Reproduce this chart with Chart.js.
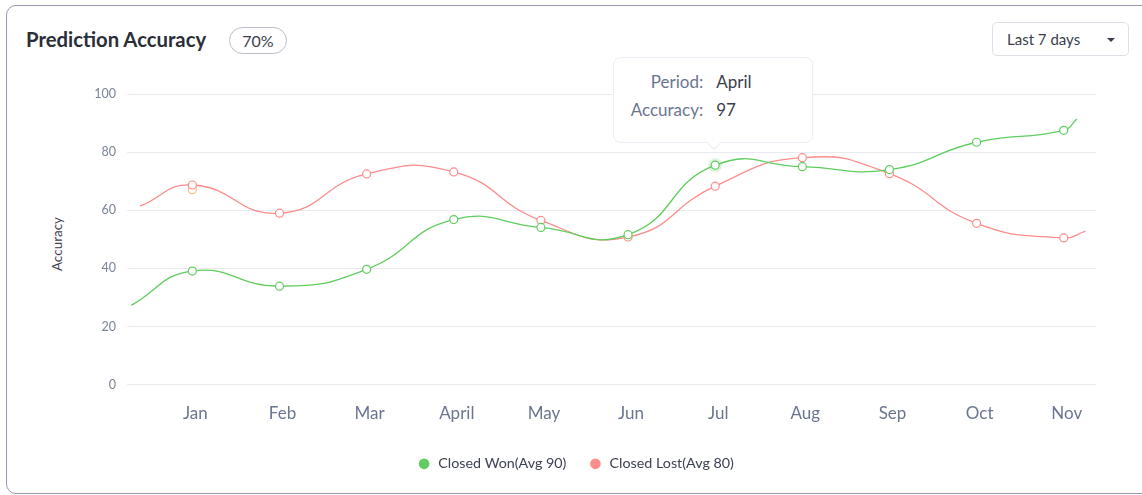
<!DOCTYPE html>
<html>
<head>
<meta charset="utf-8">
<title>Prediction Accuracy</title>
<script src="https://cdn.jsdelivr.net/npm/chart.js@4.4.1/dist/chart.umd.min.js"></script>
<style>
    body { margin: 0; width: 1142px; height: 495px; background: #fff; font-family: 'Lato', sans-serif; overflow: hidden; position: relative; }
    .tarjeta { position: absolute; left: 6px; top: 5px; width: 1160px; height: 489px; border: 1.5px solid #939bab; border-radius: 10px; box-sizing: border-box; }
    .titulo { position: absolute; left: 26px; top: 27px; font-size: 20.3px; line-height: 25px; font-weight: 700; color: #2a2e38; }
    .insignia { position: absolute; left: 229px; top: 27px; width: 58px; height: 27px; border: 1px solid #b9bfca; border-radius: 14px; box-sizing: border-box; font-size: 16px; line-height: 25px; color: #3a3f4b; text-align: center; }
    .selector { position: absolute; left: 992px; top: 22px; width: 137px; height: 34px; border: 1px solid #dde1e7; border-radius: 5px; box-sizing: border-box; font-size: 15px; line-height: 32px; color: #3a3f4b; padding-left: 14px; }
    .selector::after { content: ''; position: absolute; right: 13px; top: 15px; border-left: 4px solid transparent; border-right: 4px solid transparent; border-top: 4px solid #3a3f4b; }
    .titulo-eje { position: absolute; left: 57px; top: 244px; transform: translate(-50%, -50%) rotate(-90deg); font-size: 13.5px; color: #3d4152; white-space: nowrap; }
    .grafica { position: absolute; left: 55px; top: 70px; width: 1070px; height: 411px; }
    .tooltip { position: absolute; width: 200px; height: 86px; background: #fff; border: 1px solid #eceef6; border-radius: 8px; box-sizing: border-box; font-size: 17px; }
    .tooltip::after { content: ''; position: absolute; left: 95px; bottom: -6px; width: 9px; height: 9px; background: #fff; border-right: 1px solid #eceef6; border-bottom: 1px solid #eceef6; transform: rotate(45deg); }
    .fila { position: absolute; left: 0; width: 100%; height: 24px; line-height: 24px; }
    .fila .etq { position: absolute; right: 109px; color: #6b7590; }
    .fila .val { position: absolute; left: 102px; color: #3a3f4b; }
</style>
</head>
<body>
<div class="tarjeta"></div>
<div class="titulo">Prediction Accuracy</div>
<div class="insignia">70%</div>
<div class="selector">Last 7 days</div>
<div class="titulo-eje" id="tituloEje"></div>
<div class="grafica">
    <canvas id="chartPrecision"></canvas>
    <div class="tooltip" id="tooltipFijo">
        <div class="fila" style="top:12px"><span class="etq">Period:</span><span class="val" id="ttPeriodo"></span></div>
        <div class="fila" style="top:40px"><span class="etq">Accuracy:</span><span class="val" id="ttPrecision"></span></div>
    </div>
</div>
<script>
// Datos
const meses = ['Jan', 'Feb', 'Mar', 'April', 'May', 'Jun', 'Jul', 'Aug', 'Sep', 'Oct', 'Nov'];
const valoresGanados = [39.1, 33.9, 39.7, 56.8, 54.1, 51.6, 75.5, 75.0, 74.0, 83.4, 87.5];
const valoresPerdidos = [68.7, 59.0, 72.5, 73.2, 56.5, 50.8, 68.3, 78.1, 72.6, 55.5, 50.5];
// tramos sin marcador antes de Jan y después de Nov: [posición en el eje, valor]
const bordeGanados = [[0.30, 27.3], [11.15, 91.4]];
const bordePerdidos = [[0.40, 61.4], [11.25, 52.8]];
const puntoSuelto = [1, 67.1];
const ticksY = [0, 20, 40, 60, 80, 100];
const leyendas = ['Closed Won(Avg 90)', 'Closed Lost(Avg 80)'];
const tituloEjeY = 'Accuracy';
const tooltipPeriodo = 'April';
const tooltipPrecision = 97;
const mesTooltip = 'Jul';

const COLOR_GANADO = '#5fcd5f';
const COLOR_PERDIDO = '#fd8c8c';
const COLOR_SUELTO = '#f6c47e';

function armarSerie(valores, borde) {
    const puntos = valores.map((v, i) => ({ x: i + 1, y: v }));
    return [{ x: borde[0][0], y: borde[0][1] }, ...puntos, { x: borde[1][0], y: borde[1][1] }];
}

function radioPunto(ctx) {
    const n = ctx.dataset.data.length;
    return (ctx.dataIndex === 0 || ctx.dataIndex === n - 1) ? 0 : 4;
}

const pluginTooltipFijo = {
    id: 'tooltipFijo',
    beforeDatasetsDraw(chart) {
        const idx = meses.indexOf(mesTooltip) + 1;
        const el = chart.getDatasetMeta(0).data[idx];
        if (!el) return;
        const ctx = chart.ctx;
        ctx.save();
        ctx.beginPath();
        ctx.arc(el.x, el.y, 7, 0, Math.PI * 2);
        ctx.fillStyle = 'rgba(95, 205, 95, 0.22)';
        ctx.fill();
        ctx.restore();
    },
    afterDraw(chart) {
        const idx = meses.indexOf(mesTooltip) + 1;
        const el = chart.getDatasetMeta(0).data[idx];
        const caja = document.getElementById('tooltipFijo');
        if (!el || !caja) return;
        caja.style.left = (el.x - 102) + 'px';
        caja.style.top = (el.y - 108) + 'px';
    }
};

document.getElementById('ttPeriodo').textContent = tooltipPeriodo;
document.getElementById('ttPrecision').textContent = tooltipPrecision;
document.getElementById('tituloEje').textContent = tituloEjeY;

Chart.defaults.font.family = "'Lato', sans-serif";

try {
    new Chart(document.getElementById('chartPrecision').getContext('2d'), {
        type: 'line',
        data: {
            datasets: [
                {
                    label: leyendas[0],
                    data: armarSerie(valoresGanados, bordeGanados),
                    borderColor: COLOR_GANADO,
                    backgroundColor: COLOR_GANADO,
                    pointBackgroundColor: '#fff',
                    pointBorderColor: COLOR_GANADO,
                    borderWidth: 1.3,
                    pointBorderWidth: 1.2,
                    pointRadius: radioPunto,
                    tension: 0.5
                },
                {
                    label: leyendas[1],
                    data: armarSerie(valoresPerdidos, bordePerdidos),
                    borderColor: COLOR_PERDIDO,
                    backgroundColor: COLOR_PERDIDO,
                    pointBackgroundColor: '#fff',
                    pointBorderColor: COLOR_PERDIDO,
                    borderWidth: 1.3,
                    pointBorderWidth: 1.2,
                    pointRadius: radioPunto,
                    tension: 0.5
                },
                {
                    label: '',
                    data: [{ x: puntoSuelto[0], y: puntoSuelto[1] }],
                    borderColor: COLOR_SUELTO,
                    pointBackgroundColor: '#fff',
                    pointBorderColor: COLOR_SUELTO,
                    pointBorderWidth: 1.2,
                    pointRadius: 4,
                    showLine: false
                }
            ]
        },
        options: {
            responsive: true,
            maintainAspectRatio: false,
            animation: false,
            events: [],
            layout: { padding: { top: 24, right: 29, bottom: 0, left: 0 } },
            plugins: {
                tooltip: { enabled: false },
                legend: {
                    position: 'bottom',
                    labels: {
                        filter: item => item.text !== '',
                        generateLabels: chart => Chart.defaults.plugins.legend.labels.generateLabels(chart)
                            .map(l => ({ ...l, fillStyle: l.strokeStyle, lineWidth: 0 })),
                        usePointStyle: true,
                        pointStyle: 'circle',
                        boxWidth: 14,
                        boxHeight: 7.5,
                        padding: 22,
                        color: '#3d4152',
                        font: { size: 14.3 }
                    }
                }
            },
            scales: {
                x: {
                    type: 'linear',
                    min: 0.25,
                    max: 11.37,
                    grid: { display: false },
                    border: { display: false },
                    afterBuildTicks: scale => { scale.ticks = meses.map((m, i) => ({ value: i + 1 })); },
                    afterFit: scale => { scale.height = 50; },
                    ticks: {
                        autoSkip: false,
                        maxRotation: 0,
                        padding: 11,
                        labelOffset: 3,
                        color: '#6b7590',
                        font: { size: 17 },
                        callback: v => meses[v - 1] ?? ''
                    }
                },
                y: {
                    min: ticksY[0],
                    max: ticksY[ticksY.length - 1],
                    grid: { color: '#e8eaf0', drawTicks: false },
                    border: { display: false },
                    afterBuildTicks: scale => { scale.ticks = ticksY.map(v => ({ value: v })); },
                    afterFit: scale => { scale.width = 72; },
                    ticks: { padding: 11, color: '#7a8399', font: { size: 12.5 } }
                }
            }
        },
        plugins: [pluginTooltipFijo]
    });
} catch (e) { console.error('Error en chartPrecision:', e); }
</script>
</body>
</html>
